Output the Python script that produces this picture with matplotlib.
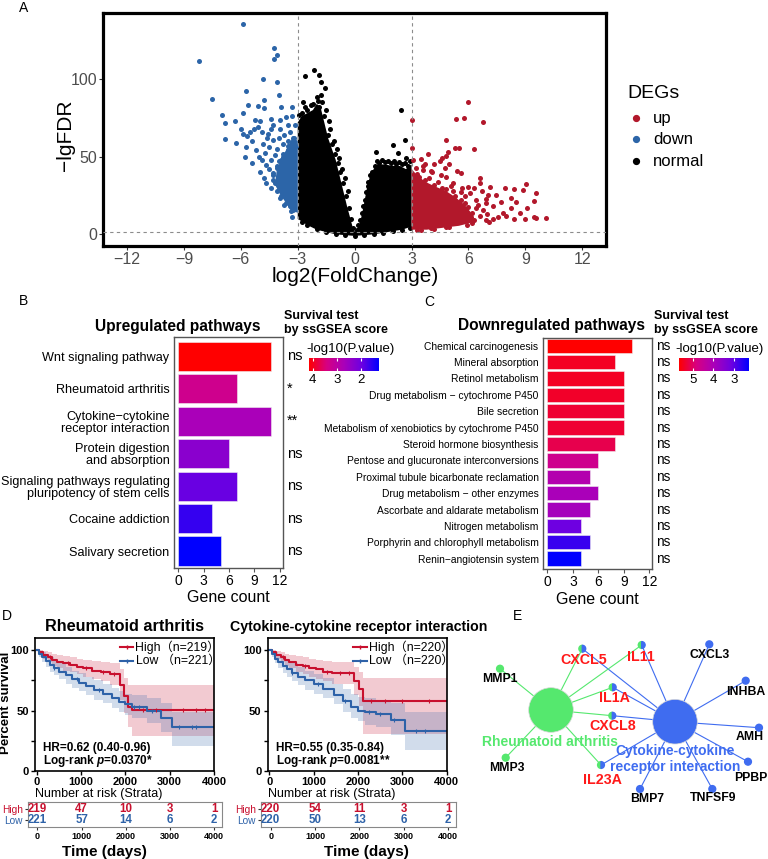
import numpy as np
import matplotlib
matplotlib.use('Agg')
import matplotlib.pyplot as plt
from matplotlib.colors import LinearSegmentedColormap, Normalize
from matplotlib.patches import Circle, Wedge
from matplotlib.transforms import blended_transform_factory

plt.rcParams['font.family'] = ['Liberation Sans', 'Noto Sans CJK SC', 'DejaVu Sans']
plt.rcParams['mathtext.fontset'] = 'custom'
plt.rcParams['mathtext.it'] = 'Liberation Sans:italic:bold'
plt.rcParams['mathtext.rm'] = 'Liberation Sans:bold'

# ---------------- DATA ----------------
# Panel A: volcano (log2FC, -lgFDR)
up_x = [5.97, 5.36, 5.76, 6.78, 3.02, 4.83, 5.27, 5.50, 6.29, 3.02, 3.87, 4.92, 4.83, 3.08, 3.51, 4.51, 4.62,
        3.25, 3.60, 4.09, 4.57, 4.74, 4.83, 5.39, 5.62, 6.59, 6.59, 7.12, 7.91, 8.40, 8.87, 9.01, 9.58, 9.44,
        10.1, 9.58, 8.96, 9.44, 8.40, 8.49, 8.26, 8.26, 7.47, 7.03, 6.94, 6.77, 7.29, 7.55, 5.97, 6.06, 5.68,
        5.62, 6.41, 6.41, 5.97, 6.15, 7.0, 7.8, 8.0, 7.3, 7.7, 6.7, 6.3, 5.2, 4.4, 3.9, 3.4, 3.2, 4.2, 5.0,
        3.7, 5.8, 6.6, 6.9, 8.7, 9.1, 7.1, 6.2, 5.5, 4.8, 4.0, 3.3, 5.2, 4.6,
        3.3, 3.7, 4.2, 4.8, 5.3, 5.8, 6.2, 6.3, 5.9, 5.0, 4.2, 3.5, 4.5, 5.5, 6.0, 3.8, 4.4, 6.5, 6.9, 4.0,
        3.6, 5.1, 5.6]
up_y = [85.0, 74.2, 74.6, 72.5, 73.6, 60.7, 55.8, 55.8, 55.0, 55.9, 52.0, 53.3, 50.5, 48.0, 48.4, 47.5, 49.0,
        42.4, 41.4, 39.9, 38.2, 42.4, 37.1, 40.9, 39.2, 36.5, 33.3, 30.7, 29.6, 29.2, 28.5, 32.4, 26.8, 21.4,
        10.6, 10.8, 10.1, 11.2, 10.1, 21.0, 23.1, 16.7, 25.5, 25.3, 19.9, 15.6, 10.1, 11.2, 30.7, 26.5, 29.6,
        22.1, 22.1, 16.7, 17.8, 11.2, 13.0, 14.0, 12.0, 18.0, 21.0, 28.0, 30.0, 33.0, 34.0, 36.0, 37.0, 33.0,
        45.0, 45.0, 45.0, 25.0, 12.0, 9.0, 14.0, 17.0, 8.0, 7.0, 8.0, 5.0, 4.0, 3.0, 28.0, 30.0,
        39.0, 35.0, 32.0, 29.0, 25.0, 20.0, 14.0, 9.0, 6.0, 5.0, 3.5, 2.5, 26.0, 15.0, 10.0, 20.0, 12.0,
        19.0, 23.0, 41.0, 44.0, 31.0, 27.0]
up_core_x = [3.0, 3.0, 3.3, 3.7, 4.2, 4.8, 5.3, 5.8, 6.2, 6.3, 5.5, 4.5, 3.8]
up_core_y = [3.0, 42.0, 38.0, 34.0, 31.0, 28.0, 24.0, 19.0, 13.0, 8.0, 5.5, 4.0, 3.0]

down_x = [-5.90, -8.22, -4.25, -4.10, -4.27, -4.85, -4.10, -5.71, -4.01, -7.52, -4.78, -5.60, -5.09, -4.79,
          -3.86, -3.30, -7.00, -5.89, -6.33, -6.82, -5.23, -5.00, -4.30, -3.95, -3.60, -5.09, -4.57, -3.95,
          -3.51, -3.16, -6.82, -5.89, -5.69, -6.26, -5.71, -5.18, -4.83, -4.30, -5.76, -5.39, -5.04, -4.66,
          -4.74, -4.39, -4.66, -4.30, -3.95, -3.60, -3.34, -3.25, -3.95, -3.60, -3.29,
          -4.5, -4.1, -3.8, -3.5, -3.2, -3.4, -3.7, -4.0, -4.6, -4.9, -5.4, -5.3, -4.4, -3.3, -3.1, -4.2,
          -3.9, -3.6, -3.3, -4.9, -4.5, -4.1, -3.8, -3.5, -3.2, -4.3, -3.9, -3.6, -3.3, -4.1, -3.8, -3.5,
          -3.2, -3.7, -3.4, -3.2, -4.4, -5.0, -4.8, -3.5, -3.8, -4.4, -5.5, -6.0,
          -3.25, -3.5, -3.8, -4.1, -4.2, -3.9, -3.6, -3.35, -4.3, -4.0, -3.7, -3.45]
down_y = [135.4, 111.6, 119.8, 115.2, 112.9, 100.2, 98.0, 92.1, 89.9, 87.1, 86.3, 83.3, 82.6, 81.1,
          82.3, 82.3, 77.0, 78.3, 73.0, 71.9, 73.9, 73.0, 70.2, 73.5, 75.6, 69.1, 64.8, 68.0,
          70.7, 70.2, 61.4, 64.4, 63.5, 59.0, 56.4, 54.3, 58.2, 60.8, 50.0, 46.2, 50.0, 44.7,
          52.2, 47.9, 33.3, 39.3, 30.7, 39.3, 22.1, 15.7, 23.2, 25.3, 11.4,
          56, 55, 58, 60, 62, 66, 64, 62, 62, 66, 60, 68, 74, 76, 57, 51,
          48, 50, 48, 48, 42, 44, 42, 44, 40, 35, 37, 34, 32, 28, 27, 29,
          27, 19, 18, 20, 30, 40, 36, 54, 52, 68, 66, 68,
          62, 57, 50, 43, 33, 25, 20, 15, 38, 47, 30, 24]
down_core_x = [-3.0, -3.0, -3.25, -3.5, -3.8, -4.1, -4.2, -3.9, -3.6, -3.35]
down_core_y = [14, 60, 63, 57, 50, 42, 32, 25, 20, 15]

normal_x = [-2.14, -1.88, -2.63, -1.76, -1.57, -2.0, -1.95, -2.74, -1.88, -2.95, -2.0, -1.35, -1.6, -2.4, -2.2,
            2.42, 2.64, 2.02, 1.14, 2.3, 2.9, 2.7, -1.4, -1.2, -1.05, -0.9, -0.75, -0.6, -0.45, -0.3, -0.18,
            -0.07, 0.1, 0.3, 0.45, 0.6, 0.72, 0.9, 1.05, 1.3, 1.6, 1.9, 2.2, 2.5, 2.8, -2.8, -2.5, -2.3,
            -1.7, -1.5, -1.8, -2.8, -2.5, -2.0, -1.5, -1.0, -0.5, 0.0, 0.5, 1.0, 1.5, 2.0, 2.5, 2.9,
            -1.3, -1.1, -0.95, -0.8, -0.65, -0.5, -0.35, 0.2, 0.38, 0.52, 0.68, 0.82, 1.2, 1.45, 1.75, 2.05,
            2.35, 2.65, -2.6, -2.2]
normal_y = [105.8, 102.6, 101.9, 98.2, 94.0, 88.3, 86.0, 85.4, 81.8, 76.8, 79.0, 73.0, 76.0, 75.0, 72.0,
            80.0, 60.7, 57.5, 53.2, 52.5, 47.0, 49.0, 64.0, 58.0, 52.0, 46.0, 40.0, 33.0, 25.0, 17.0, 10.0,
            4.0, 3.0, 9.0, 18.0, 27.0, 34.0, 40.0, 44.0, 46.0, 46.5, 46.0, 45.5, 45.0, 44.0, 78.0, 80.0, 83.0,
            85.0, 80.0, 90.0, 8.0, 6.0, 3.5, 1.5, 0.5, -0.3, -1.0, -0.3, 0.3, 1.0, 2.0, 3.0, 4.0,
            68.0, 60.0, 55.0, 49.0, 42.0, 36.0, 28.0, 6.0, 14.0, 22.0, 31.0, 38.0, 47.5, 48.0, 47.0, 47.0,
            46.5, 46.0, 82.0, 84.0]
normal_core_x = [-3.0, -3.0, -2.8, -2.5, -2.2, -2.0, -1.8, -1.6, -1.4, -1.2, -1.0, -0.8, -0.6, -0.4, -0.2,
                 -0.05, 0.1, 0.3, 0.5, 0.65, 0.8, 1.0, 1.2, 1.6, 2.0, 2.4, 2.7, 3.0, 3.0, 2.5, 2.0, 1.0, 0.0,
                 -1.0, -2.0, -2.5]
normal_core_y = [10, 72, 76, 78, 80, 84, 82, 72, 62, 55, 48, 38, 28, 18, 9,
                 2, 2, 8, 20, 30, 37, 42, 45, 45, 44, 44, 42, 45, 5, 3, 2, 0, -1,
                 0, 3, 6]

# Panel B: upregulated pathways
up_pathways = ['Wnt signaling pathway', 'Rheumatoid arthritis', 'Cytokine\u2212cytokine\nreceptor interaction',
               'Protein digestion\nand absorption', 'Signaling pathways regulating\npluripotency of stem cells',
               'Cocaine addiction', 'Salivary secretion']
up_counts = [11, 7, 11, 6, 7, 4, 5]
up_logp = [4.14, 3.27, 2.70, 2.32, 1.94, 1.60, 1.25]
up_sig = ['ns', '*', '**', 'ns', 'ns', 'ns', 'ns']

# Panel C: downregulated pathways
down_pathways = ['Chemical carcinogenesis', 'Mineral absorption', 'Retinol metabolism',
                 'Drug metabolism \u2212 cytochrome P450', 'Bile secretion',
                 'Metabolism of xenobiotics by cytochrome P450', 'Steroid hormone biosynthesis',
                 'Pentose and glucuronate interconversions', 'Proximal tubule bicarbonate reclamation',
                 'Drug metabolism \u2212 other enzymes', 'Ascorbate and aldarate metabolism',
                 'Nitrogen metabolism', 'Porphyrin and chlorophyll metabolism', 'Renin\u2212angiotensin system']
down_counts = [10, 8, 9, 9, 9, 9, 8, 6, 5, 6, 5, 4, 5, 4]
down_logp = [5.66, 5.43, 5.43, 5.39, 5.33, 5.32, 5.16, 4.66, 4.15, 3.99, 3.92, 3.15, 2.75, 2.31]
down_sig = ['ns'] * 14

# Panel D: Kaplan-Meier (time in days, percent survival)
ra_high_t = [0, 60, 150, 250, 350, 450, 600, 750, 900, 1050, 1250, 1450, 1650, 1880, 1960, 2050, 2150, 4000]
ra_high_s = [100, 98, 96, 94, 92, 90, 89, 88, 86, 85, 83, 82, 80, 71, 62, 53, 50.5, 50.5]
ra_high_hi = [100, 100, 99, 98, 97, 95.5, 95, 94, 93, 92, 91, 90, 89, 84, 77, 71, 71.5, 71.5]
ra_high_lo = [100, 96, 93, 90, 87, 85, 83, 82, 80, 78, 76, 74, 71, 59, 48, 36, 29, 29]
ra_low_t = [0, 50, 120, 200, 300, 400, 500, 650, 800, 950, 1100, 1300, 1500, 1700, 1850, 2000, 2150, 2480,
            2800, 3050, 4000]
ra_low_s = [100, 97, 94, 91, 88, 85, 82, 79, 76, 73, 70, 67, 64, 60, 57, 55, 53, 49.5, 43.5, 36.5, 36.5]
ra_low_hi = [100, 99.5, 98, 96, 94, 91, 89, 86, 83, 81, 78, 75, 72, 69, 66, 64, 63, 60, 56, 49, 49]
ra_low_lo = [100, 94, 90, 86, 82, 79, 76, 72, 69, 66, 63, 59, 56, 52, 49, 46, 44, 40, 32, 21, 21]
ra_high_cens = [300, 700, 1100, 1500, 1750, 2400, 2700, 3300, 3600, 3800]
ra_low_cens = [400, 900, 1400, 2200, 2300, 2600, 3200, 3500, 3600]

cc_high_t = [0, 60, 150, 250, 350, 450, 600, 750, 900, 1050, 1200, 1400, 1900, 2030, 2120, 4000]
cc_high_s = [100, 98, 96, 94, 92, 90, 88, 87, 85, 84, 82, 81, 74, 68, 58, 58]
cc_high_hi = [100, 100, 99, 98, 97, 96, 95, 94, 93, 92, 91, 90, 86, 82, 77, 77]
cc_high_lo = [100, 96, 93, 90, 87, 85, 82, 80, 78, 76, 74, 72, 63, 54, 31, 30]
cc_low_t = [0, 50, 120, 200, 300, 400, 500, 650, 800, 1000, 1200, 1450, 1650, 1850, 2000, 2150, 2400, 2750,
            3060, 4000]
cc_low_s = [100, 97, 93, 90, 87, 84, 81, 78, 75, 72, 68, 63, 58, 53, 50, 48.5, 47, 42, 33, 33]
cc_low_hi = [100, 99.5, 98, 96, 93, 91, 89, 86, 83, 80, 77, 72, 68, 64, 61, 60, 59, 56, 49, 49]
cc_low_lo = [100, 94, 89, 85, 81, 78, 74, 71, 67, 64, 60, 55, 49, 44, 41, 38, 36, 30, 17, 16]
cc_high_cens = [300, 800, 1300, 1600, 1800, 2300, 2600, 3000, 3600]
cc_low_cens = [500, 1100, 1700, 2250, 2500, 2800, 3300, 3500]

risk_times = [0, 1000, 2000, 3000, 4000]
ra_risk_high = [219, 47, 10, 3, 1]
ra_risk_low = [221, 57, 14, 6, 2]
cc_risk_high = [220, 54, 11, 3, 1]
cc_risk_low = [220, 50, 13, 6, 2]

# Panel E: gene-pathway network (layout coordinates)
gene_names = ['MMP1', 'MMP3', 'CXCL5', 'IL11', 'IL1A', 'CXCL8', 'IL23A', 'CXCL3', 'INHBA', 'AMH', 'PPBP',
              'TNFSF9', 'BMP7']
gene_in_ra = [1, 1, 1, 1, 1, 1, 1, 0, 0, 0, 0, 0, 0]
gene_in_cc = [0, 0, 1, 1, 1, 1, 1, 1, 1, 1, 1, 1, 1]
gene_x = [500, 505.7, 582.3, 641.7, 612.7, 612.3, 601, 709.3, 745.7, 759, 748, 712.3, 640]
gene_y = [668.7, 757.7, 648.7, 645, 687.3, 715.7, 765, 644.3, 680.7, 727.7, 761.7, 789, 789]
label_x = [499.5, 506.7, 583.3, 641, 614.5, 612.7, 602, 710, 745.5, 750, 751, 712.7, 646.7]
label_y = [679.3, 767.7, 660, 656.7, 698.3, 726, 780, 655, 691.7, 737.3, 778.3, 798.3, 799]
hub_names = ['Rheumatoid arthritis', 'Cytokine-cytokine\nreceptor interaction']
hub_x = [551, 675]
hub_y = [710, 721.7]

# ---------------- FIGURE ----------------
W, H = 768, 859
fig = plt.figure(figsize=(W / 100, H / 100), dpi=100)


def add_ax(l, t, r, b):
    return fig.add_axes([l / W, 1 - b / H, (r - l) / W, (b - t) / H])


def ftext(x, y, s, **kw):
    kw.setdefault('va', 'center')
    fig.text(x / W, 1 - y / H, s, **kw)


c_up, c_down = '#B2182B', '#2C65A8'

# ---- Panel A ----
axA = add_ax(103.3, 13.3, 606, 246)
axA.fill(normal_core_x, normal_core_y, color='black', lw=0, zorder=1)
axA.scatter(normal_x, normal_y, s=13, c='black', lw=0, zorder=2)
axA.fill(down_core_x, down_core_y, color=c_down, lw=0, zorder=2)
axA.scatter(down_x, down_y, s=13, c=c_down, lw=0, zorder=3)
axA.fill(up_core_x, up_core_y, color=c_up, lw=0, zorder=2)
axA.scatter(up_x, up_y, s=13, c=c_up, lw=0, zorder=3)
for xv in (-3, 3):
    axA.axvline(xv, ls=(0, (3, 3)), color='#8c8c8c', lw=0.8, zorder=4)
axA.axhline(-np.log10(0.05), ls=(0, (3, 3)), color='#8c8c8c', lw=0.8, zorder=4)
axA.set_xlim(-13.25, 13.25)
axA.set_ylim(-7.5, 142.3)
axA.set_xticks(range(-12, 13, 3))
axA.set_yticks([0, 50, 100])
axA.tick_params(labelsize=11.5, labelcolor='#4d4d4d', color='#333333', length=3, pad=1.5)
for sp in axA.spines.values():
    sp.set_linewidth(2.3)
ftext(355, 277, 'log2(FoldChange)', ha='center', fontsize=15)
ftext(66, 135, '\u2212lgFDR', ha='center', fontsize=15, rotation=90)
ftext(627, 93, 'DEGs', ha='left', fontsize=14)
for yy, lab, col in [(118.3, 'up', c_up), (139.3, 'down', c_down), (161, 'normal', 'black')]:
    ftext(653, yy, lab, ha='left', fontsize=12)
    fig.lines.append(matplotlib.lines.Line2D([636 / W], [1 - yy / H], marker='o', ms=4.2, color=col,
                                             lw=0, transform=fig.transFigure))

# ---- colour map for B/C ----
cmap = LinearSegmentedColormap.from_list('br', [(0, '#0000FF'), (0.25, '#6E00E1'), (0.5, '#AA00B9'),
                                                (0.75, '#D70082'), (1, '#FF0000')])


def bar_panel(box, names, counts, logp, sig, lab_fs, ns_fs, ns_x, bar_h, ylim):
    ax = add_ax(*box)
    norm = Normalize(min(logp), max(logp))
    ypos = np.arange(len(names))
    ax.barh(ypos, counts, height=bar_h, color=cmap(norm(np.array(logp))), edgecolor='#f0f0f0', lw=0.4,
            zorder=2)
    ax.set_ylim(*ylim)
    ax.set_xlim(-0.55, 12.35)
    ax.set_yticks(ypos)
    ax.set_yticklabels(names, fontsize=lab_fs, linespacing=1.0)
    ax.tick_params(axis='y', length=0, pad=3)
    ax.set_xticks([0, 3, 6, 9, 12])
    ax.tick_params(axis='x', labelsize=10, length=3, pad=1, color='#555555')
    for sp in ax.spines.values():
        sp.set_color('#555555')
        sp.set_linewidth(1.0)
    tr = blended_transform_factory(ax.transAxes, ax.transData)
    for i, s in enumerate(sig):
        ax.text(ns_x, i, s, transform=tr, fontsize=ns_fs, ha='left', va='center')
    return ax


axB = bar_panel((173.7, 336.7, 282.7, 568.3), up_pathways, up_counts, up_logp, up_sig, 9.1, 10.5, 1.04, 0.9,
                (6.53, -0.6))
axC = bar_panel((542.7, 337.7, 652.3, 569.3), down_pathways, down_counts, down_logp, down_sig, 7.4, 9.8, 1.03,
                0.88, (13.65, -0.49))


def colorbar(box, vmin, vmax, ticks):
    ax = add_ax(*box)
    grad = np.linspace(vmin, vmax, 256)[None, :]
    ax.imshow(grad, aspect='auto', cmap=cmap, extent=[vmin, vmax, 0, 1], vmin=vmin, vmax=vmax)
    ax.set_xlim(vmax, vmin)
    ax.set_ylim(0, 1)
    ax.set_yticks([])
    ax.set_xticks(ticks)
    ax.tick_params(axis='x', labelsize=9.5, length=2.5, color='white', direction='in', pad=2, top=True)
    for sp in ax.spines.values():
        sp.set_visible(False)


colorbar((309.3, 357.7, 378.7, 371), min(up_logp), max(up_logp), [4, 3, 2])
colorbar((679, 357.7, 748.3, 371), min(down_logp), max(down_logp), [5, 4, 3])

ftext(178, 327, 'Upregulated pathways', ha='center', fontsize=11.2, fontweight='bold')
ftext(552, 326, 'Downregulated pathways', ha='center', fontsize=11.2, fontweight='bold')
for x0 in (284.3, 654):
    ftext(x0, 316, 'Survival test', ha='left', fontsize=9, fontweight='bold')
    ftext(x0, 329.5, 'by ssGSEA score', ha='left', fontsize=9, fontweight='bold')
ftext(306.7, 349, '-log10(P.value)', ha='left', fontsize=9.5)
ftext(675.7, 349, '-log10(P.value)', ha='left', fontsize=9.5)
ftext(228, 598, 'Gene count', ha='center', fontsize=11.5)
ftext(597, 599, 'Gene count', ha='center', fontsize=11.5)

# ---- Panel D ----
c_hi, c_lo = '#C8102E', '#2E62A8'


def step_at(t, s, tc):
    idx = np.searchsorted(np.array(t), np.array(tc), side='right') - 1
    return np.array(s)[idx]


def km(box, title, title_fs, title_x, hr, lr, legx, ht, hv, hhi, hlo, lt, lv, lhi, llo, hc, lc, nh, nl):
    ax = add_ax(*box)
    ax.fill_between(ht, hlo, hhi, step='post', color=c_hi, alpha=0.22, lw=0)
    ax.fill_between(lt, llo, lhi, step='post', color=c_lo, alpha=0.22, lw=0)
    ax.step(ht, hv, where='post', color=c_hi, lw=1.5)
    ax.step(lt, lv, where='post', color=c_lo, lw=1.5)
    ax.plot(hc, step_at(ht, hv, hc), '|', color=c_hi, ms=3, mew=0.8)
    ax.plot(lc, step_at(lt, lv, lc), '|', color=c_lo, ms=3, mew=0.8)
    ax.set_xlim(-40, 4000)
    ax.set_ylim(0, 110.2)
    ax.set_yticks([0, 50, 100])
    ax.set_yticks([25, 75], minor=True)
    ax.set_xticks([0, 1000, 2000, 3000, 4000])
    ax.tick_params(which='both', length=3, width=1, labelsize=8, pad=1.5)
    for lab in ax.get_xticklabels() + ax.get_yticklabels():
        lab.set_fontweight('bold')
    for sp in ax.spines.values():
        sp.set_linewidth(1.2)
    l, t, r, b = box
    ftext(title_x, 626.7, title, ha='center', fontsize=title_fs, fontweight='bold')
    for yy, col, txt in [(647, c_hi, nh), (661, c_lo, nl)]:
        fig.lines.append(matplotlib.lines.Line2D([legx / W, (legx + 13.3) / W], [1 - yy / H] * 2, color=col,
                                                 lw=1.5, transform=fig.transFigure))
        fig.lines.append(matplotlib.lines.Line2D([(legx + 6.6) / W], [1 - yy / H], marker='|', ms=3.5,
                                                 color=col, lw=0, transform=fig.transFigure))
        ftext(legx + 15.5, yy, txt, ha='left', fontsize=8.8)
    ftext(l + 8, 748.3, hr, ha='left', fontsize=8.5, fontweight='bold')
    ftext(l + 8, 761, lr, ha='left', fontsize=8.5, fontweight='bold')
    ftext(l, 794, 'Number at risk (Strata)', ha='left', fontsize=9)
    return ax


km((35, 637.7, 214, 771), 'Rheumatoid arthritis', 11.7, 124.7,
   'HR=0.62 (0.40-0.96)', r'Log-rank $p$=0.0370*', 120,
   ra_high_t, ra_high_s, ra_high_hi, ra_high_lo, ra_low_t, ra_low_s, ra_low_hi, ra_low_lo,
   ra_high_cens, ra_low_cens, 'High\uff08n=219\uff09', 'Low \uff08n=221\uff09')
km((267.7, 637.7, 446.7, 771), 'Cytokine-cytokine receptor interaction', 10.2, 358.3,
   'HR=0.55 (0.35-0.84)', r'Log-rank $p$=0.0081**', 353.3,
   cc_high_t, cc_high_s, cc_high_hi, cc_high_lo, cc_low_t, cc_low_s, cc_low_hi, cc_low_lo,
   cc_high_cens, cc_low_cens, 'High\uff08n=220\uff09', 'Low \uff08n=220\uff09')
ftext(6, 703, 'Percent survival', ha='center', fontsize=9.5, fontweight='bold', rotation=90)


def risk_table(box, rh, rl, tx):
    ax = add_ax(*box)
    ax.set_xlim(-226, 4183)
    ax.set_ylim(1.664, -0.636)
    for t, a, b in zip(risk_times, rh, rl):
        ax.text(t, 0, str(a), color=c_hi, ha='center', va='center', fontsize=8.3, fontweight='bold')
        ax.text(t, 1, str(b), color=c_lo, ha='center', va='center', fontsize=8.3, fontweight='bold')
    ax.set_yticks([0, 1])
    ax.set_yticklabels(['High', 'Low'], fontsize=7.3)
    ax.get_yticklabels()[0].set_color(c_hi)
    ax.get_yticklabels()[1].set_color(c_lo)
    ax.set_xticks(risk_times)
    ax.tick_params(axis='both', length=2.5, width=0.8, color='#333333', pad=1.0)
    ax.tick_params(axis='x', labelsize=6.5)
    for lab in ax.get_xticklabels():
        lab.set_fontweight('bold')
    for sp in ax.spines.values():
        sp.set_color('#888888')
        sp.set_linewidth(0.8)
    ftext(tx, 851.7, 'Time (days)', ha='center', fontsize=11, fontweight='bold')


risk_table((27.5, 802, 222.3, 827.3), ra_risk_high, ra_risk_low, 104)
risk_table((260.7, 802, 456.3, 827.3), cc_risk_high, cc_risk_low, 366)

# ---- Panel E ----
c_g, c_b = '#55E86E', '#3F6CF0'
axE = add_ax(470, 620, 768, 820)
axE.set_xlim(470, 768)
axE.set_ylim(820, 620)
axE.axis('off')
for i in range(len(gene_names)):
    if gene_in_ra[i]:
        axE.plot([hub_x[0], gene_x[i]], [hub_y[0], gene_y[i]], color=c_g, lw=0.8, zorder=1)
    if gene_in_cc[i]:
        axE.plot([hub_x[1], gene_x[i]], [hub_y[1], gene_y[i]], color=c_b, lw=0.8, zorder=1)
for hx, hy, col in zip(hub_x, hub_y, [c_g, c_b]):
    axE.add_patch(Circle((hx, hy), 22.3, color=col, ec='#d8d8d8', lw=0.5, zorder=2))
for i in range(len(gene_names)):
    gx, gy = gene_x[i], gene_y[i]
    if gene_in_ra[i] and gene_in_cc[i]:
        axE.add_patch(Wedge((gx, gy), 3.4, 90, 270, color=c_g, zorder=3))
        axE.add_patch(Wedge((gx, gy), 3.4, 270, 90, color=c_b, zorder=3))
        col, fs = '#FF1A1A', 10.3
    else:
        axE.add_patch(Circle((gx, gy), 3.4, color=c_g if gene_in_ra[i] else c_b, zorder=3))
        col, fs = 'black', 8.8
    axE.text(label_x[i], label_y[i], gene_names[i], color=col, fontsize=fs, fontweight='bold', ha='center',
             va='center', zorder=4)
axE.text(550, 741.7, hub_names[0], color=c_g, fontsize=10, fontweight='bold', ha='center', va='center', zorder=5)
axE.text(675, 759, hub_names[1], color=c_b, fontsize=10, fontweight='bold', ha='center', va='center',
         linespacing=1.15, zorder=5)

# panel letters
for x0, y0, s in [(24, 8, 'A'), (23, 301, 'B'), (429, 302, 'C'), (7, 616, 'D'), (518, 616, 'E')]:
    ftext(x0, y0, s, ha='center', fontsize=10)

fig.savefig('out.png', dpi=100)
